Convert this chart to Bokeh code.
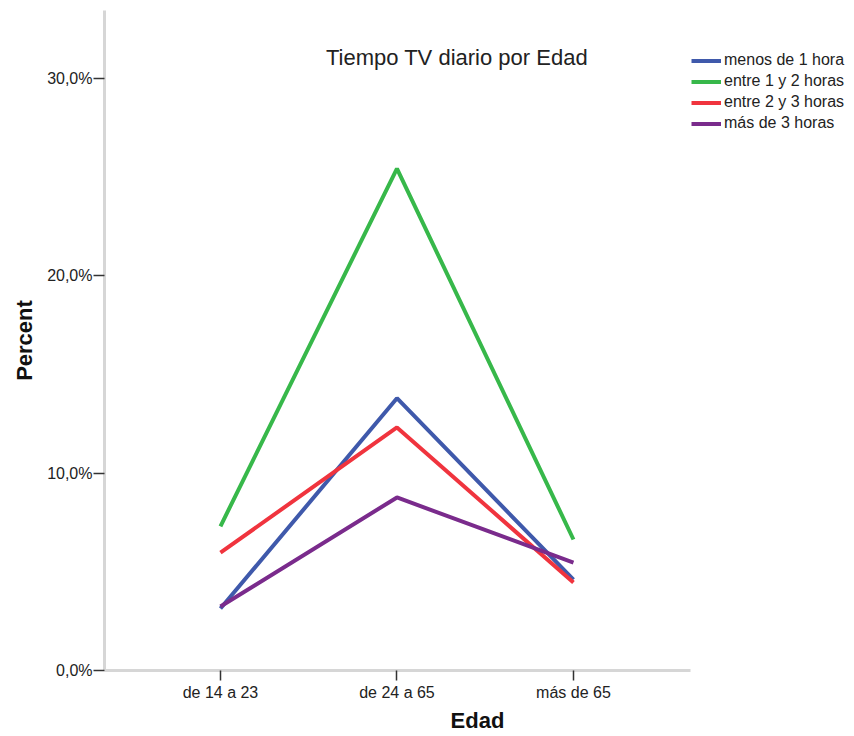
from bokeh.plotting import figure
from bokeh.models import Legend, LegendItem, Label, FixedTicker, Range1d
from bokeh.embed import file_html
from bokeh.resources import INLINE

# ---- data ----
categories = ["de 14 a 23", "de 24 a 65", "más de 65"]
series_names = ["menos de 1 hora", "entre 1 y 2 horas", "entre 2 y 3 horas", "más de 3 horas"]
menos_1_hora = [3.14, 13.80, 4.61]
entre_1_y_2 = [7.31, 25.44, 6.64]
entre_2_y_3 = [5.97, 12.32, 4.46]
mas_de_3 = [3.24, 8.77, 5.47]
y_ticks = [0, 10, 20, 30]
y_tick_labels = ["0,0%", "10,0%", "20,0%", "30,0%"]
title_text = "Tiempo TV diario por Edad"
x_label = "Edad"
y_label = "Percent"

colors = ["#3F59AB", "#37B84A", "#F0343E", "#7A2B8C"]
FONT = "Liberation Sans"

# layout constants (pixels)
W, H = 850, 736
LEFT, TOP, BOTTOM = 104, 10, 66
PX_PER_CAT = 176.5
X_START = -0.657
X_AXIS_END = 2.663
frame_w = W - LEFT
x_end = X_START + frame_w / PX_PER_CAT

xs = list(range(len(categories)))

p = figure(width=W, height=H, output_backend="svg", toolbar_location=None,
           x_range=Range1d(X_START, x_end), y_range=Range1d(0, 33.45),
           min_border_left=LEFT, min_border_right=0, min_border_top=TOP, min_border_bottom=BOTTOM,
           background_fill_color="white", border_fill_color="white")
p.outline_line_color = None
p.xgrid.visible = False
p.ygrid.visible = False

for ax in (p.xaxis[0], p.yaxis[0]):
    ax.axis_line_color = "#d6d6d6"
    ax.axis_line_width = 3
    ax.major_tick_line_color = "#333333"
    ax.major_tick_line_width = 1.5
    ax.major_tick_out = 11
    ax.major_tick_in = 0
    ax.minor_tick_line_color = None
    ax.major_label_text_font = FONT
    ax.major_label_text_font_size = "16px"
    ax.major_label_text_color = "#222222"
    ax.axis_label_text_font = FONT
    ax.axis_label_text_font_size = "22px"
    ax.axis_label_text_font_style = "bold"
    ax.axis_label_text_color = "#111111"

p.xaxis.bounds = (X_START, X_AXIS_END)
p.xaxis.ticker = FixedTicker(ticks=xs)
p.xaxis.major_label_overrides = {i: c for i, c in zip(xs, categories)}
p.xaxis.axis_label = x_label
p.xaxis.major_tick_out = 10
p.xaxis.major_label_standoff = 3
p.xaxis.axis_label_standoff = 4

p.yaxis.ticker = FixedTicker(ticks=y_ticks)
p.yaxis.major_label_overrides = {t: l for t, l in zip(y_ticks, y_tick_labels)}
p.yaxis.axis_label = y_label
p.yaxis.major_label_standoff = 1
p.yaxis.axis_label_standoff = 7

items = []
for name, vals, col in zip(series_names, [menos_1_hora, entre_1_y_2, entre_2_y_3, mas_de_3], colors):
    r = p.line(xs, vals, line_color=col, line_width=4)
    items.append(LegendItem(label=name, renderers=[r]))

legend = Legend(items=items, location=(587, 536.5),
                label_text_font=FONT, label_text_font_size="16px", label_text_color="#222222",
                glyph_width=30, glyph_height=21, label_height=21, label_standoff=3,
                spacing=0, padding=2, margin=0,
                border_line_color=None, background_fill_alpha=0)
p.add_layout(legend)

p.add_layout(Label(x=1.34, y=31.07, text=title_text, text_align="center", text_baseline="middle",
                   text_font=FONT, text_font_size="22px", text_color="#222222"))

open("out.html", "w").write(file_html(p, INLINE))
